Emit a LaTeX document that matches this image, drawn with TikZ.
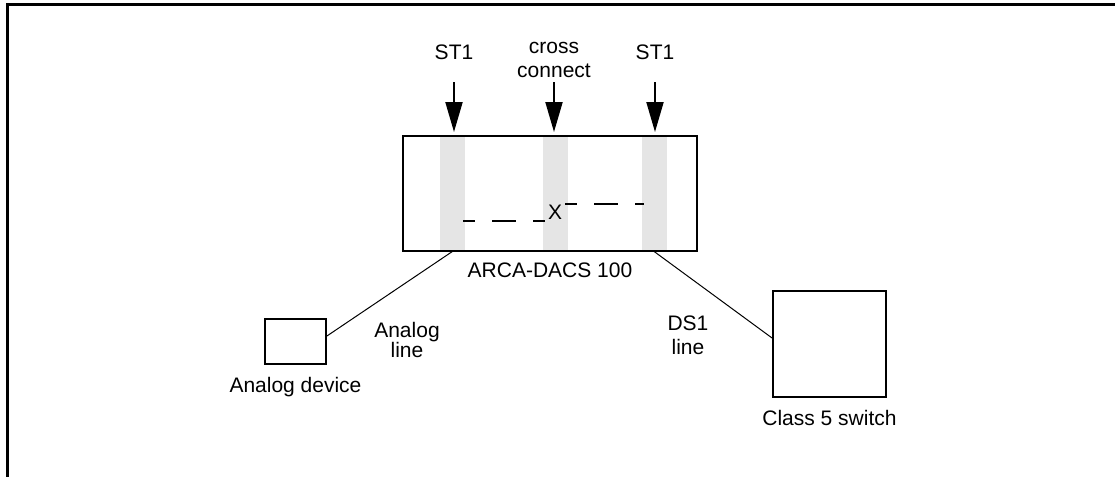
\documentclass[tikz,border=0pt]{standalone}
\usepackage{fontspec}
\setmainfont{Liberation Sans}
\usepackage{tikz}
\usetikzlibrary{arrows.meta}
\definecolor{stripgray}{RGB}{229,229,229}

\begin{document}
\begin{tikzpicture}[x=0.5pt,y=-0.5pt,>=Stealth,
    lbl/.style={font=\fontsize{10.5}{12}\selectfont,align=center,inner sep=0pt},
    unit/.style={draw,line width=1pt,inner sep=0pt},
    strip/.style={fill=stripgray,inner sep=0pt,minimum width=12.5pt,minimum height=57.5pt},
    pointer/.style={-{Triangle[length=15pt,width=8.5pt]},line width=1pt},
    link/.style={line width=0.5pt},
    xdash/.style={line width=1pt,dash pattern=on 12pt off 8.5pt,dash phase=6pt}]
    \useasboundingbox (0,0) rectangle (1115,477);

    % Frame
    \draw[line width=1.5pt] (7.5,477) -- (7.5,4.5) -- (1115,4.5);

    % ARCA-DACS with its three slots
    \node[strip] (sl) at (452.5,193.5) {};
    \node[strip] (sm) at (555,193.5) {};
    \node[strip] (sr) at (654,193.5) {};
    \node[unit,minimum width=147pt,minimum height=57.5pt] (dacs) at (550,193.5) {};
    \node[lbl,below=5pt] at (dacs.south) {ARCA-DACS 100};

    % Cross connection
    \node[lbl] (xc) at (555,212) {X};
    \draw[xdash] (463,221) -- (545,221);
    \draw[xdash] (565,204) -- (644,204);

    % Slot labels
    \node[lbl] (tl) at (454,52) {ST1};
    \node[lbl] (tm) at (554,60) {cross\\connect};
    \node[lbl] (tr) at (655,52) {ST1};
    \coordinate (al) at (454,82);
    \coordinate (am) at (554,82);
    \coordinate (ar) at (655,82);
    \draw[pointer] (al) -- (454,132);
    \draw[pointer] (am) -- (554,132);
    \draw[pointer] (ar) -- (655,132);

    % End equipment
    \node[unit,minimum width=30.5pt,minimum height=22.5pt] (dev) at (295.5,341.5) {};
    \node[lbl,below=6pt] at (dev.south) {Analog device};
    \node[unit,minimum width=56.5pt,minimum height=53pt] (sw) at (829.5,344) {};
    \node[lbl,below=6pt] at (sw.south) {Class 5 switch};

    % Lines
    \draw[link] (sl.south) -- (dev.10);
    \draw[link] (sr.south) -- (sw.174);
    \node[lbl,font=\fontsize{10.5}{10}\selectfont] at (407,340) {Analog\\line};
    \node[lbl] at (688,335) {DS1\\line};
\end{tikzpicture}
\end{document}
